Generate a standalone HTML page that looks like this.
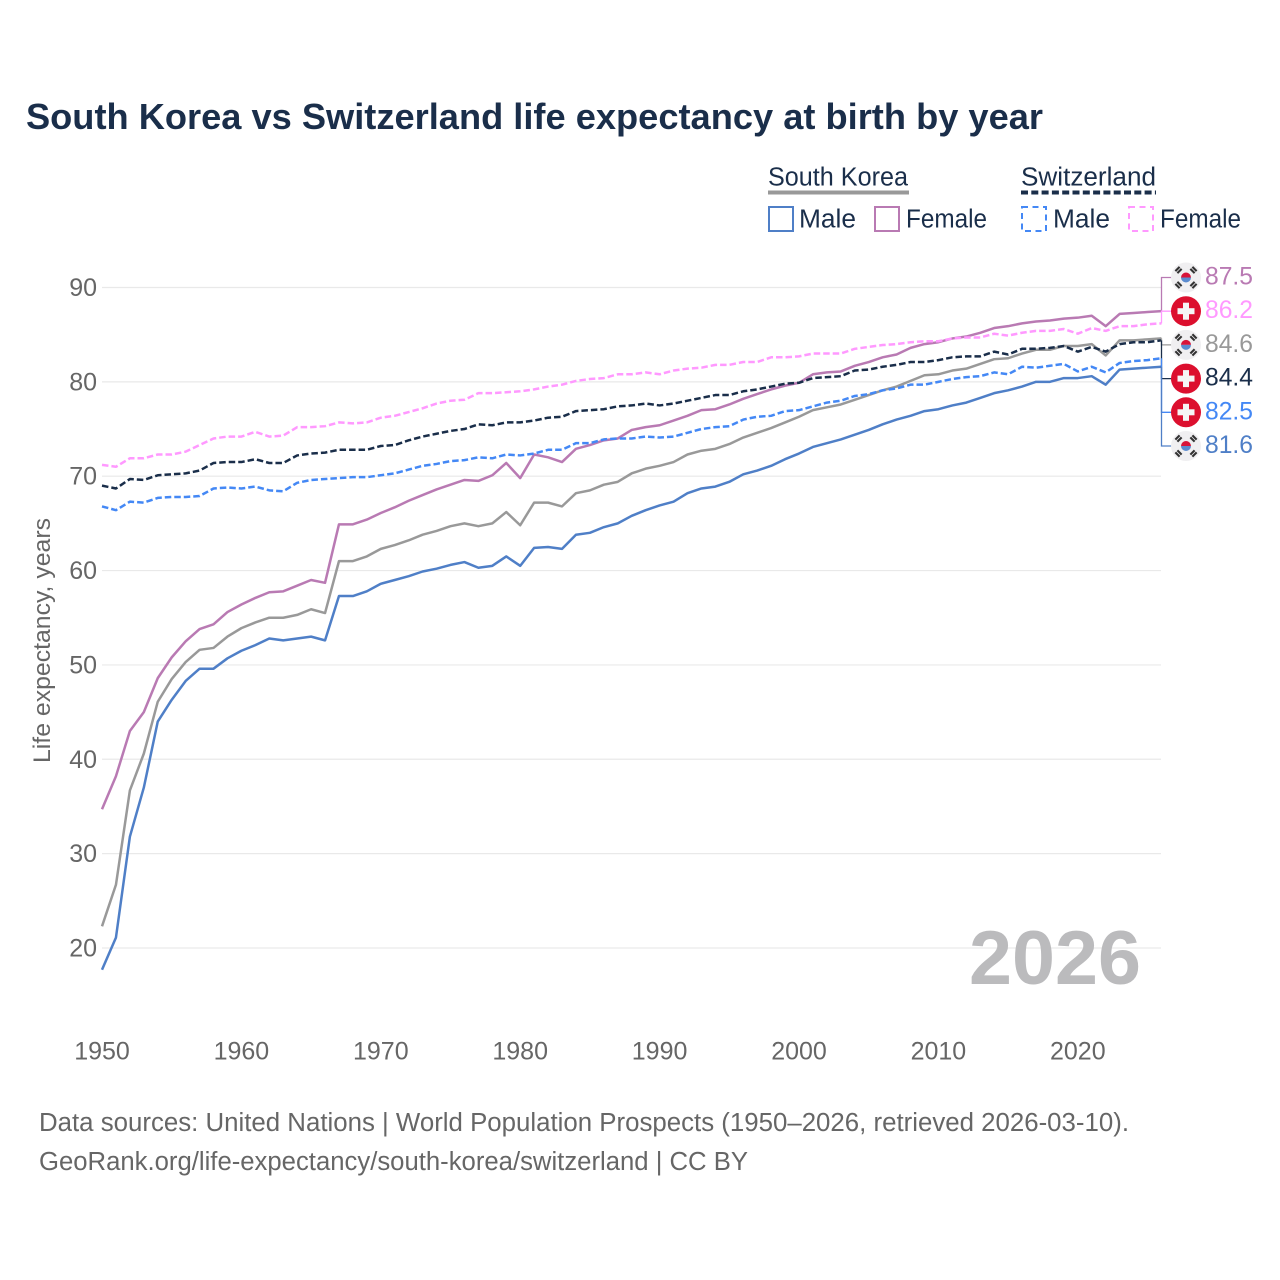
<!DOCTYPE html>
<html lang="en">
<head>
<meta charset="utf-8">
<title>South Korea vs Switzerland life expectancy</title>
<style>
html,body{margin:0;padding:0;background:#fff;}
svg{display:block;}
text{font-family:"Liberation Sans",sans-serif;}
</style>
</head>
<body>
<svg id="chart" xmlns="http://www.w3.org/2000/svg" width="1280" height="1280" viewBox="0 0 1280 1280">
  <rect x="0" y="0" width="1280" height="1280" fill="#ffffff"/>
  <text x="26" y="129" font-size="36" font-weight="700" fill="#1a2e4a" textLength="1017" lengthAdjust="spacingAndGlyphs">South Korea vs Switzerland life expectancy at birth by year</text>

  <g>
    <text x="768" y="185.5" font-size="25.5" fill="#1a2e4a" textLength="140" lengthAdjust="spacingAndGlyphs">South Korea</text>
    <line x1="768" y1="192.5" x2="909" y2="192.5" stroke="#999999" stroke-width="4"/>
    <rect x="769" y="207" width="24" height="24" fill="none" stroke="#4f7fc7" stroke-width="2"/>
    <text x="799" y="227.5" font-size="25.5" fill="#1a2e4a" textLength="57" lengthAdjust="spacingAndGlyphs">Male</text>
    <rect x="875" y="207" width="24" height="24" fill="none" stroke="#b97ab3" stroke-width="2"/>
    <text x="906" y="227.5" font-size="25.5" fill="#1a2e4a" textLength="81" lengthAdjust="spacingAndGlyphs">Female</text>

    <text x="1021" y="185.5" font-size="25.5" fill="#1a2e4a" textLength="135" lengthAdjust="spacingAndGlyphs">Switzerland</text>
    <line x1="1021" y1="192.5" x2="1156" y2="192.5" stroke="#1a2e4a" stroke-width="4" stroke-dasharray="7 3.3"/>
    <rect x="1022" y="207" width="24" height="24" fill="none" stroke="#4488f5" stroke-width="2" stroke-dasharray="6 4.5"/>
    <text x="1053" y="227.5" font-size="25.5" fill="#1a2e4a" textLength="57" lengthAdjust="spacingAndGlyphs">Male</text>
    <rect x="1129" y="207" width="24" height="24" fill="none" stroke="#ff99ff" stroke-width="2" stroke-dasharray="6 4.5"/>
    <text x="1160" y="227.5" font-size="25.5" fill="#1a2e4a" textLength="81" lengthAdjust="spacingAndGlyphs">Female</text>
  </g>

  <g id="grid"></g>
  <g id="yticks"></g>
  <g id="xticks"></g>
  <text transform="translate(50,763) rotate(-90)" x="0" y="0" font-size="24" fill="#666666" textLength="245" lengthAdjust="spacingAndGlyphs">Life expectancy, years</text>
  <text x="969" y="984" font-size="76" font-weight="700" fill="#bbbbbd" textLength="172" lengthAdjust="spacingAndGlyphs">2026</text>
  <g id="series"></g>
  <g id="labels"></g>

  <text x="39" y="1131" font-size="25.5" fill="#666666" textLength="1090" lengthAdjust="spacingAndGlyphs">Data sources: United Nations | World Population Prospects (1950–2026, retrieved 2026-03-10).</text>
  <text x="39" y="1170" font-size="25.5" fill="#666666" textLength="709" lengthAdjust="spacingAndGlyphs">GeoRank.org/life-expectancy/south-korea/switzerland | CC BY</text>
</svg>
<script>
const startYear = 1950;
const xTickLabels = [1950,1960,1970,1980,1990,2000,2010,2020];
const yTickLabels = [20,30,40,50,60,70,80,90];

const koreaMale = [17.7,21.1,31.8,37.0,44.0,46.3,48.3,49.6,49.6,50.7,51.5,52.1,52.8,52.6,52.8,53.0,52.6,57.3,57.3,57.8,58.6,59.0,59.4,59.9,60.2,60.6,60.9,60.3,60.5,61.5,60.5,62.4,62.5,62.3,63.8,64.0,64.6,65.0,65.8,66.4,66.9,67.3,68.2,68.7,68.9,69.4,70.2,70.6,71.1,71.8,72.4,73.1,73.5,73.9,74.4,74.9,75.5,76.0,76.4,76.9,77.1,77.5,77.8,78.3,78.8,79.1,79.5,80.0,80.0,80.4,80.4,80.6,79.7,81.3,81.4,81.5,81.6];
const koreaFemale = [34.7,38.2,43.0,45.0,48.6,50.8,52.5,53.8,54.3,55.6,56.4,57.1,57.7,57.8,58.4,59.0,58.7,64.9,64.9,65.4,66.1,66.7,67.4,68.0,68.6,69.1,69.6,69.5,70.1,71.4,69.8,72.3,72.0,71.5,72.9,73.3,73.8,74.0,74.9,75.2,75.4,75.9,76.4,77.0,77.1,77.6,78.2,78.7,79.2,79.6,79.9,80.8,81.0,81.1,81.7,82.1,82.6,82.9,83.6,84.0,84.2,84.6,84.8,85.2,85.7,85.9,86.2,86.4,86.5,86.7,86.8,87.0,85.9,87.2,87.3,87.4,87.5];
const koreaBoth = [22.3,26.7,36.7,40.6,46.1,48.5,50.3,51.6,51.8,53.0,53.9,54.5,55.0,55.0,55.3,55.9,55.5,61.0,61.0,61.5,62.3,62.7,63.2,63.8,64.2,64.7,65.0,64.7,65.0,66.2,64.8,67.2,67.2,66.8,68.2,68.5,69.1,69.4,70.3,70.8,71.1,71.5,72.3,72.7,72.9,73.4,74.1,74.6,75.1,75.7,76.3,77.0,77.3,77.6,78.1,78.6,79.1,79.5,80.1,80.7,80.8,81.2,81.4,81.9,82.4,82.5,83.0,83.4,83.4,83.8,83.8,84.0,82.8,84.4,84.4,84.5,84.6];
const swissMale = [66.8,66.4,67.3,67.2,67.7,67.8,67.8,67.9,68.7,68.8,68.7,68.9,68.5,68.4,69.3,69.6,69.7,69.8,69.9,69.9,70.1,70.3,70.7,71.1,71.3,71.6,71.7,72.0,71.9,72.3,72.2,72.4,72.8,72.8,73.5,73.5,73.9,74.0,74.0,74.2,74.1,74.2,74.6,75.0,75.2,75.3,76.0,76.3,76.4,76.9,77.0,77.4,77.8,78.0,78.5,78.7,79.1,79.3,79.7,79.7,80.0,80.3,80.5,80.6,81.0,80.8,81.6,81.5,81.7,81.9,81.1,81.6,81.0,82.0,82.2,82.3,82.5];
const swissFemale = [71.2,71.0,71.9,71.9,72.3,72.3,72.6,73.3,74.0,74.2,74.2,74.7,74.2,74.3,75.2,75.2,75.3,75.7,75.6,75.7,76.2,76.4,76.8,77.2,77.7,78.0,78.1,78.8,78.8,78.9,79.0,79.2,79.5,79.7,80.1,80.3,80.4,80.8,80.8,81.0,80.8,81.2,81.4,81.5,81.8,81.8,82.1,82.1,82.6,82.6,82.7,83.0,83.0,83.0,83.5,83.7,83.9,84.0,84.2,84.3,84.3,84.6,84.7,84.7,85.1,84.9,85.2,85.4,85.4,85.6,85.1,85.7,85.4,85.9,85.9,86.1,86.2];
const swissBoth = [69.0,68.7,69.7,69.6,70.1,70.2,70.3,70.6,71.4,71.5,71.5,71.8,71.4,71.4,72.2,72.4,72.5,72.8,72.8,72.8,73.2,73.3,73.8,74.2,74.5,74.8,75.0,75.5,75.4,75.7,75.7,75.9,76.2,76.3,76.9,77.0,77.1,77.4,77.5,77.7,77.5,77.7,78.0,78.3,78.6,78.6,79.0,79.2,79.5,79.8,79.9,80.4,80.5,80.6,81.2,81.3,81.6,81.8,82.1,82.1,82.3,82.6,82.7,82.7,83.2,82.9,83.5,83.5,83.6,83.8,83.2,83.7,83.2,84.0,84.2,84.2,84.4];

const NS = 'http://www.w3.org/2000/svg';
function xScale(year){ return 102 + (year - 1950) * 13.94; }
function yScale(v){ return 948 - (v - 20) * 9.436; }
function make(tag, attrs, parent, content){
  const n = document.createElementNS(NS, tag);
  for (const k in attrs) n.setAttribute(k, attrs[k]);
  if (content !== undefined) n.textContent = content;
  parent.appendChild(n);
  return n;
}

const gridG = document.getElementById('grid');
const yG = document.getElementById('yticks');
const xG = document.getElementById('xticks');
yTickLabels.forEach(function(t){
  const gl = make('line', {x1:102, x2:1161, y1:yScale(t), y2:yScale(t), stroke:'#e9e9e9', 'stroke-width':1.2}, gridG);
  
  
  const lab = make('text', {x:97, y:yScale(t) + 8.5, 'font-size':25, fill:'#666666', 'text-anchor':'end'}, yG, String(t));
  
  
});
xTickLabels.forEach(function(t){
  const lab = make('text', {x:xScale(t), y:1059.5, 'font-size':25, fill:'#666666', 'text-anchor':'middle'}, xG, String(t));
  
  
});

const seriesG = document.getElementById('series');
function drawSeries(values, color, dash, name){
  const d = values.map(function(v, i){
    return (i ? 'L' : 'M') + xScale(startYear + i).toFixed(2) + ' ' + yScale(v).toFixed(2);
  }).join('');
  const p = make('path', {d:d, fill:'none', stroke:color, 'stroke-width':2.5, 'stroke-linejoin':'round'}, seriesG);
  if (dash) p.setAttribute('stroke-dasharray', dash);
  
  
}
const cKM = '#4f7fc7', cKF = '#b97ab3', cKB = '#999999', cSM = '#4488f5', cSF = '#ff99ff', cSB = '#1a2e4a';
drawSeries(koreaMale, cKM, null, 'south-korea-male-line');
drawSeries(koreaFemale, cKF, null, 'south-korea-female-line');
drawSeries(koreaBoth, cKB, null, 'south-korea-both-line');
drawSeries(swissMale, cSM, '6.5 3', 'switzerland-male-line');
drawSeries(swissFemale, cSF, '6.5 3', 'switzerland-female-line');
drawSeries(swissBoth, cSB, '6.5 3', 'switzerland-both-line');

const labelsG = document.getElementById('labels');
function koreaFlag(parent, cy){
  const cx = 1186;
  make('circle', {cx:cx, cy:cy, r:15, fill:'#f0eff1'}, parent);
  make('path', {d:'M'+(cx-5)+' '+cy+'A5 5 0 0 1 '+(cx+5)+' '+cy+'Z', fill:'#d8143a'}, parent);
  make('path', {d:'M'+(cx-5)+' '+cy+'A5 5 0 0 0 '+(cx+5)+' '+cy+'Z', fill:'#5b8bcf'}, parent);
  [[-1,-1],[1,-1],[-1,1],[1,1]].forEach(function(s){
    const tx = cx + s[0] * 7.5, ty = cy + s[1] * 7.5, rot = s[0] * s[1] > 0 ? -45 : 45;
    make('rect', {x:tx-3, y:ty-2.5, width:6, height:5, fill:'#333333',
      transform:'rotate('+rot+' '+tx+' '+ty+')'}, parent);
    make('line', {x1:tx-3.5, y1:ty, x2:tx+3.5, y2:ty, stroke:'#f0eff1', 'stroke-width':0.8,
      transform:'rotate('+rot+' '+tx+' '+ty+')'}, parent);
  });
}
function swissFlag(parent, cy){
  const cx = 1186;
  make('circle', {cx:cx, cy:cy, r:15, fill:'#dc0f2e'}, parent);
  make('rect', {x:cx-8.5, y:cy-3, width:17, height:6, fill:'#f5f5f5'}, parent);
  make('rect', {x:cx-3, y:cy-8.5, width:6, height:17, fill:'#f5f5f5'}, parent);
}
const labelTop = 277.5;
const labelStep = 33.7;
const endEntries = [
  {values:koreaFemale, color:cKF, flag:koreaFlag, key:'south-korea-female'},
  {values:swissFemale, color:cSF, flag:swissFlag, key:'switzerland-female'},
  {values:koreaBoth, color:cKB, flag:koreaFlag, key:'south-korea-both'},
  {values:swissBoth, color:cSB, flag:swissFlag, key:'switzerland-both'},
  {values:swissMale, color:cSM, flag:swissFlag, key:'switzerland-male'},
  {values:koreaMale, color:cKM, flag:koreaFlag, key:'south-korea-male'}
];
endEntries.forEach(function(e, rank){
  const last = e.values[e.values.length - 1];
  const slot = labelTop + rank * labelStep;
  const g = make('g', {}, labelsG);
  
  
  const conn = make('path', {d:'M1161.5 '+yScale(last).toFixed(2)+'V'+slot+'H1172', fill:'none', stroke:e.color, 'stroke-width':1.3}, g);
  
  
  const fg = make('g', {}, g);
  
  
  e.flag(fg, slot);
  const t = make('text', {x:1205, y:slot + 7, 'font-size':25, fill:e.color, textLength:48, lengthAdjust:'spacingAndGlyphs'}, g, last.toFixed(1));
  
  
});
</script>
</body>
</html>
